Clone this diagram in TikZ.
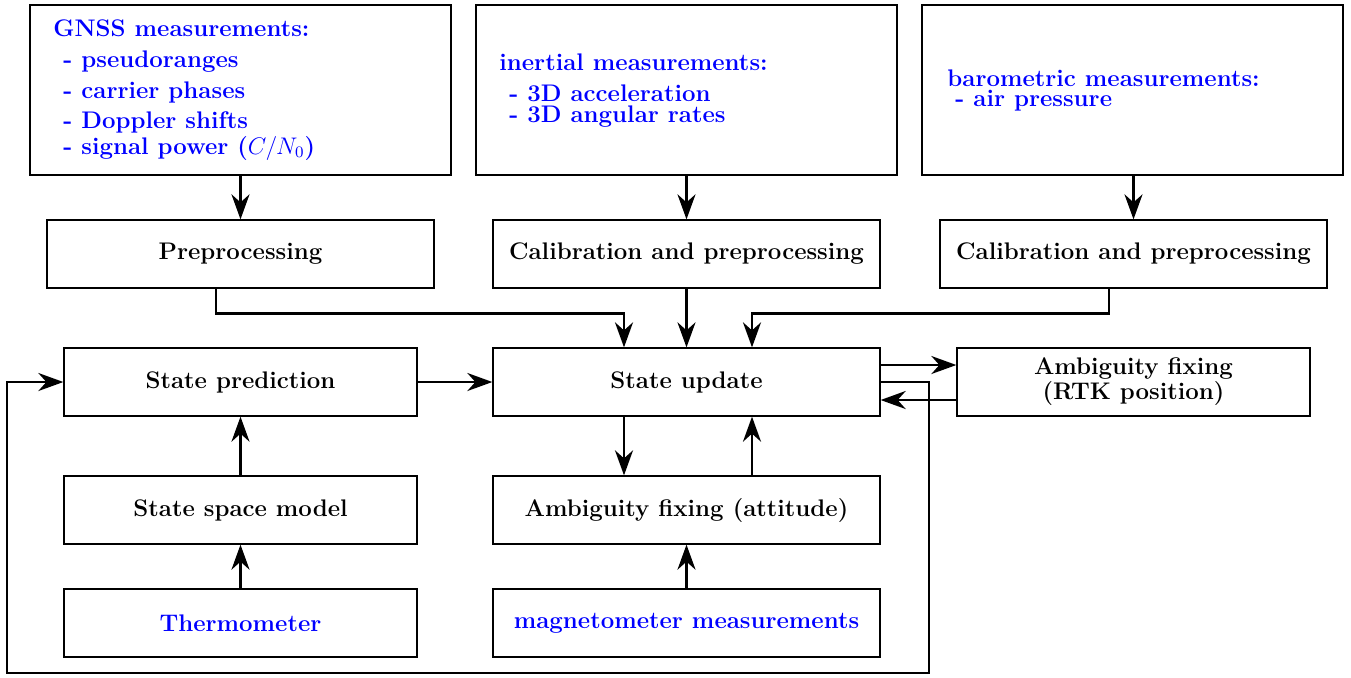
\documentclass[tikz,border=0pt]{standalone}
\usetikzlibrary{arrows.meta}
\begin{document}
\begin{tikzpicture}[x=0.5pt,y=-0.5pt,
  font=\fontsize{12}{12.5}\selectfont\bfseries,
  box/.style={draw, line width=0.65pt, align=center, inner sep=0pt},
  wide/.style={box, minimum width=193.5pt, minimum height=34pt},
  narrow/.style={box, minimum width=176.5pt, minimum height=34pt},
  big/.style={box, minimum width=210.5pt, minimum height=85pt},
  lbl/.style={anchor=base west, inner sep=0pt, text=blue},
  arr/.style={-{Stealth[length=12.5pt,width=9pt,inset=4pt]}, line width=1.3pt}]
\useasboundingbox (0,0) rectangle (1351,677);
% top measurement boxes
\node[big] (gnss) at (240.5,90) {};
\node[big] (ine) at (686.5,90) {};
\node[big] (baro) at (1132.5,90) {};
\node[lbl] (g0) at (53,36) {GNSS measurements:};
\node[lbl] (g1) at (63,67.5) {- pseudoranges};
\node[lbl] (g2) at (63,98) {- carrier phases};
\node[lbl] (g3) at (63,128) {- Doppler shifts};
\node[lbl] (g4) at (63,154) {- signal power ($C/N_0$)};
\node[lbl] (i0) at (499,70) {inertial measurements:};
\node[lbl] (i1) at (509,101) {- 3D acceleration};
\node[lbl] (i2) at (509,122) {- 3D angular rates};
\node[lbl] (b0) at (947,86) {barometric measurements:};
\node[lbl] (b1) at (955,106) {- air pressure};
% processing boxes
\node[wide] (pre) at (240.5,254) {Preprocessing};
\node[wide] (cal1) at (686.5,254) {Calibration and preprocessing};
\node[wide] (cal2) at (1133.5,254) {Calibration and preprocessing};
\node[narrow] (sp) at (240.5,382) {State prediction};
\node[wide] (su) at (686.5,382) {State update};
\node[narrow] (rtk) at (1133.5,382) {Ambiguity fixing\\(RTK position)};
\node[narrow] (ssm) at (240.5,510) {State space model};
\node[wide] (amb) at (686.5,510) {Ambiguity fixing (attitude)};
\node[narrow, text=blue] (th) at (240.5,623) {Thermometer};
\node[wide, text=blue] (mag) at (686.5,623) {magnetometer measurements};
\coordinate (rb) at (929,673);
\coordinate (lb) at (7,673);
% connectors
\draw[arr] (gnss) -- (pre);
\draw[arr] (ine) -- (cal1);
\draw[arr] (baro.south -| cal2.north) -- (cal2);
\draw[arr] ([xshift=-12.25pt]pre.south) -- ++(0,25) -| ([xshift=-31.25pt]su.north);
\draw[arr] (cal1) -- (su);
\draw[arr] ([xshift=-12.25pt]cal2.south) -- ++(0,25) -| ([xshift=32.75pt]su.north);
\draw[arr] (sp) -- (su);
\draw[arr] ([yshift=8.5pt]su.east) -- ([yshift=8.5pt]rtk.west);
\draw[arr] ([yshift=-9pt]rtk.west) -- ([yshift=-9pt]su.east);
\draw[arr] (su.east) -| (rb) -- (lb) |- (sp.west);
\draw[arr] ([xshift=-31.25pt]su.south) -- ([xshift=-31.25pt]amb.north);
\draw[arr] ([xshift=32.75pt]amb.north) -- ([xshift=32.75pt]su.south);
\draw[arr] (mag) -- (amb);
\draw[arr] (ssm) -- (sp);
\draw[arr] (th) -- (ssm);
\end{tikzpicture}
\end{document}
